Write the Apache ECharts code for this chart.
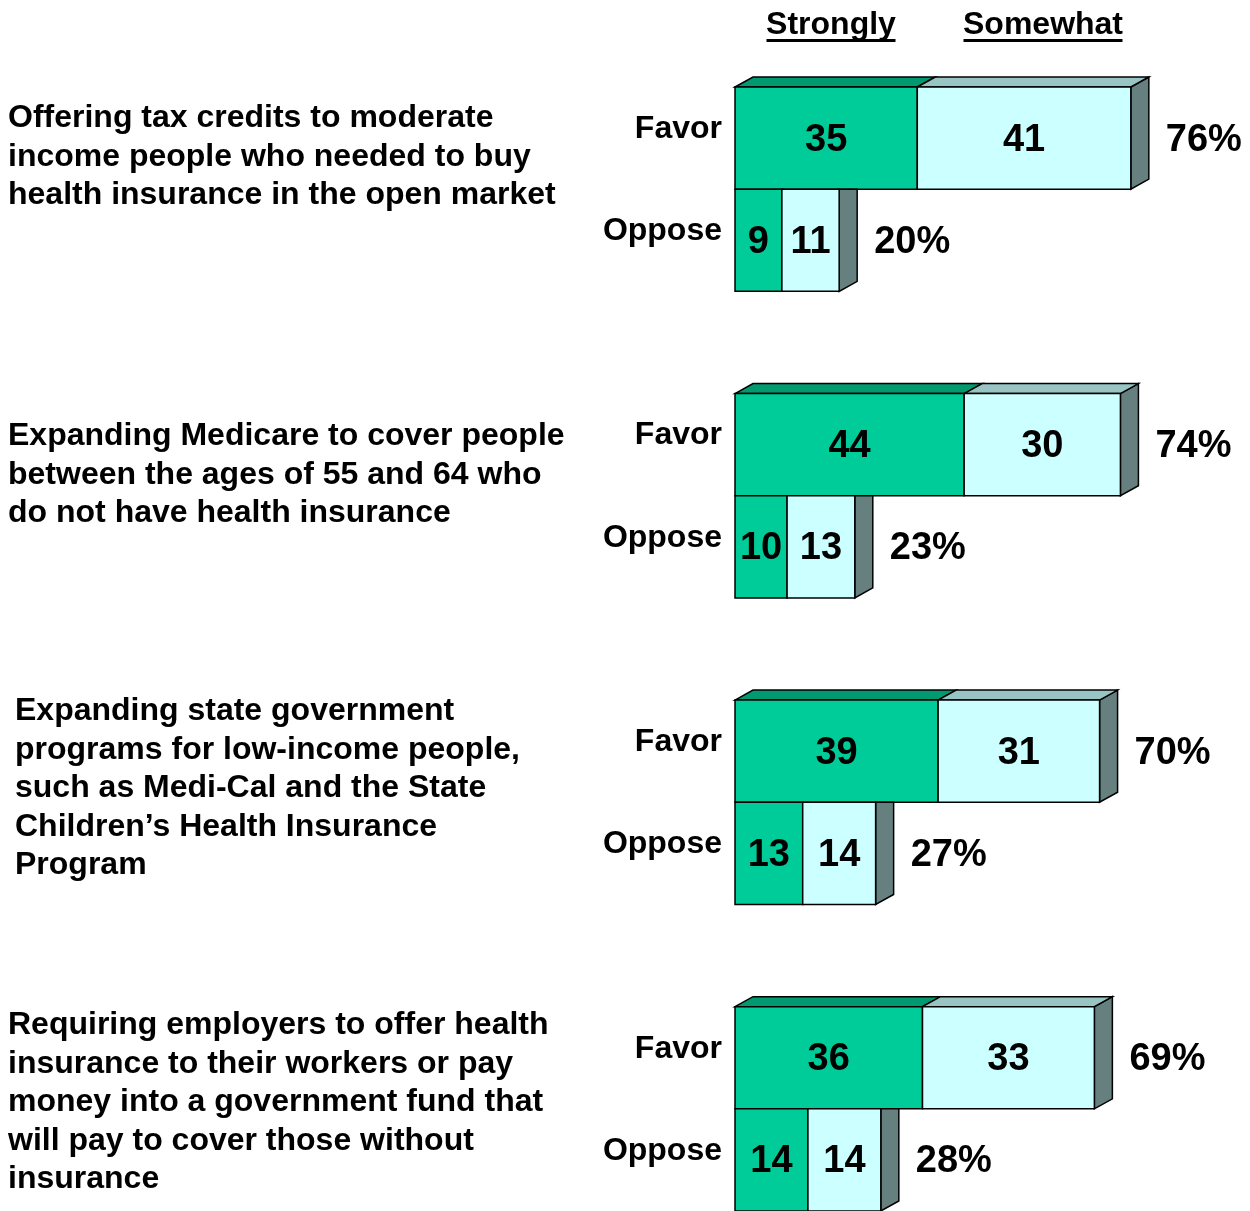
<!DOCTYPE html>
<html>
<head>
<meta charset="utf-8">
<title>Support for health proposals</title>
<script src="https://cdn.jsdelivr.net/npm/echarts@6/dist/echarts.min.js"></script>
<style>
  html, body { margin: 0; padding: 0; background: #fff; }
  #chart { width: 1250px; height: 1211px; }
</style>
</head>
<body>
<div id="chart"></div>
<script>
// proposal text, one entry per group (line breaks as in the slide)
var proposals = [
    'Offering tax credits to moderate\nincome people who needed to buy\nhealth insurance in the open market',
    'Expanding Medicare to cover people\nbetween the ages of 55 and 64 who\ndo not have health insurance',
    'Expanding state government\nprograms for low-income people,\nsuch as Medi-Cal and the State\nChildren\u2019s Health Insurance\nProgram',
    'Requiring employers to offer health\ninsurance to their workers or pay\nmoney into a government fund that\nwill pay to cover those without\ninsurance'
];
var favorStrongly = [35, 44, 39, 36];
var favorSomewhat = [41, 30, 31, 33];
var opposeStrongly = [9, 10, 13, 14];
var opposeSomewhat = [11, 13, 14, 14];
var favorTotal = [76, 74, 70, 69];
var opposeTotal = [20, 23, 27, 28];
var headers = ['Strongly', 'Somewhat'];

var FONT = 'Arial, "Liberation Sans", sans-serif';
var C_STRONG = '#00CC99', C_SOME = '#CCFFFF';
var C_STRONG_TOP = '#009970', C_SOME_TOP = '#99C4C4', C_SIDE = '#668080';
var DX = 18, DY = 10;

// rows: favor, oppose, gap  -> 3 rows per group
var rows = [];
for (var g = 0; g < 4; g++) {
    rows.push([favorStrongly[g], favorSomewhat[g], g * 3, favorTotal[g], 1]);
    rows.push([opposeStrongly[g], opposeSomewhat[g], g * 3 + 1, opposeTotal[g], 0]);
}

function renderItem(params, api) {
    var s = api.value(0), w = api.value(1), row = api.value(2);
    var total = api.value(3), favor = api.value(4) === 1;
    var p0 = api.coord([0, row]), p1 = api.coord([s, row]), p2 = api.coord([s + w, row]);
    var h = api.size([0, 1])[1];
    var top = p0[1] - h / 2, bot = p0[1] + h / 2, cy = p0[1];
    var line = { stroke: '#000', lineWidth: 1.5 };
    var kids = [];
    // side face (oppose side starts under the favor bar, so its top is flat)
    var sideTop = favor ? top - DY : top;
    kids.push({ type: 'polygon', shape: { points: [[p2[0], top], [p2[0] + DX, sideTop], [p2[0] + DX, bot - DY], [p2[0], bot]] },
        style: Object.assign({ fill: C_SIDE }, line) });
    if (favor) {
        kids.push({ type: 'polygon', shape: { points: [[p0[0], top], [p0[0] + DX, top - DY], [p1[0] + DX, top - DY], [p1[0], top]] },
            style: Object.assign({ fill: C_STRONG_TOP }, line) });
        kids.push({ type: 'polygon', shape: { points: [[p1[0], top], [p1[0] + DX, top - DY], [p2[0] + DX, top - DY], [p2[0], top]] },
            style: Object.assign({ fill: C_SOME_TOP }, line) });
    }
    kids.push({ type: 'rect', shape: { x: p0[0], y: top, width: p1[0] - p0[0], height: h }, style: Object.assign({ fill: C_STRONG }, line) });
    kids.push({ type: 'rect', shape: { x: p1[0], y: top, width: p2[0] - p1[0], height: h }, style: Object.assign({ fill: C_SOME }, line) });
    var num = { fontFamily: FONT, fontWeight: 'bold', fontSize: 38, fill: '#000', align: 'center', verticalAlign: 'middle' };
    kids.push({ type: 'text', style: Object.assign({ text: String(s), x: (p0[0] + p1[0]) / 2, y: cy + 2 }, num) });
    kids.push({ type: 'text', style: Object.assign({ text: String(w), x: (p1[0] + p2[0]) / 2, y: cy + 2 }, num) });
    kids.push({ type: 'text', style: Object.assign({}, num, { text: total + '%', x: p2[0] + DX + 17, y: cy + 2, align: 'left' }) });
    kids.push({ type: 'text', style: { text: favor ? 'Favor' : 'Oppose', x: p0[0] - 13, y: cy - 9, align: 'right', verticalAlign: 'middle',
        fontFamily: FONT, fontWeight: 'bold', fontSize: 32, fill: '#000' } });
    return { type: 'group', children: kids };
}

var textTops = [99, 417, 692, 1006];
var textLeft = [8, 8, 15, 8];
var graphics = proposals.map(function (t, i) {
    return { type: 'text', left: textLeft[i], top: textTops[i],
        style: { text: t, font: 'bold 32px ' + FONT, lineHeight: 38.5, fill: '#000' } };
});
var headX = [831, 1043], headW = [129, 159];
headers.forEach(function (t, i) {
    graphics.push({ type: 'text', x: headX[i], y: 25,
        style: { text: t, font: 'bold 32px ' + FONT, fill: '#000', align: 'center', verticalAlign: 'middle' } });
    graphics.push({ type: 'rect', shape: { x: headX[i] - headW[i] / 2, y: 39, width: headW[i], height: 3 }, style: { fill: '#000' } });
});

var chart = echarts.init(document.getElementById('chart'));
chart.setOption({
    animation: false,
    grid: { left: 735, top: 87, width: 500, height: 1124, outerBoundsMode: 'none' },
    xAxis: { type: 'value', min: 0, max: 96, show: false },
    yAxis: { type: 'value', min: -0.5, max: 10.5, inverse: true, show: false },
    graphic: graphics,
    series: [{
        type: 'custom',
        renderItem: renderItem,
        encode: { x: 0, y: 2 },
        clip: false,
        data: rows
    }]
});
</script>
</body>
</html>
